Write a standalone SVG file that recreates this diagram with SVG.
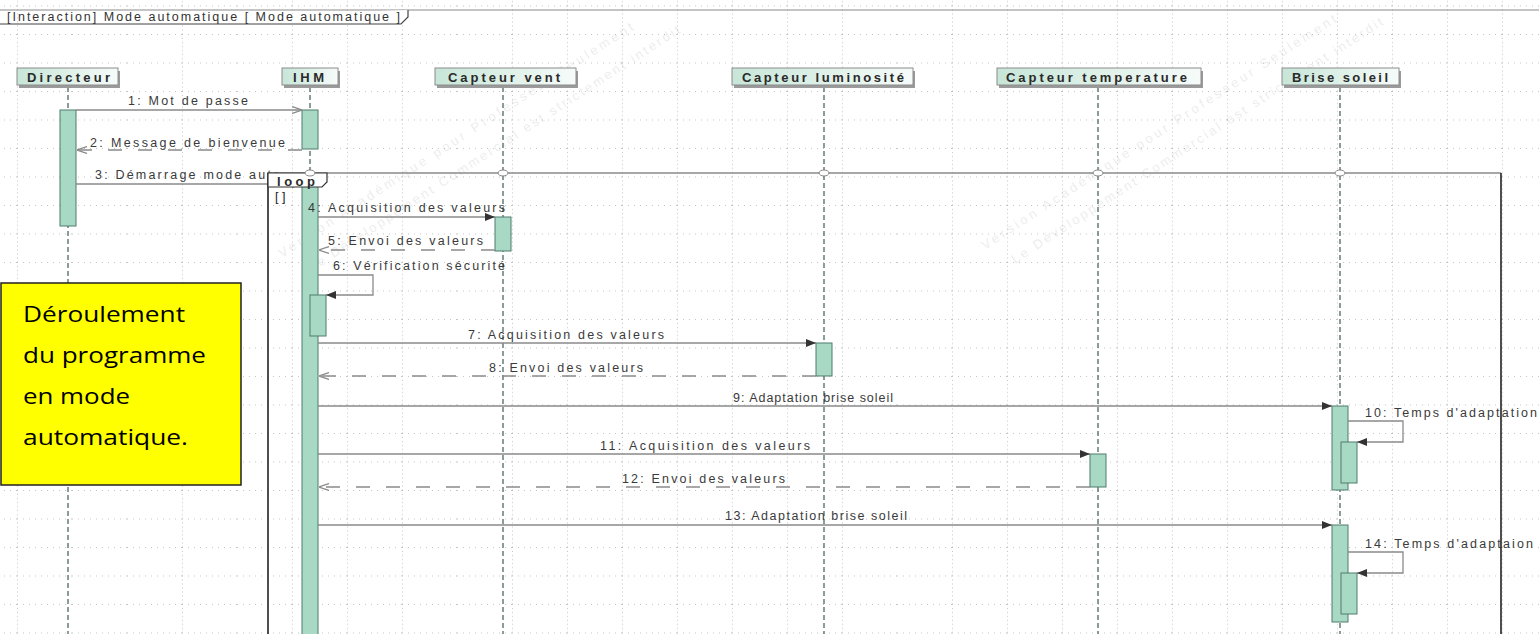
<svg xmlns="http://www.w3.org/2000/svg" width="1539" height="634" viewBox="0 0 1539 634">
<defs>
<style>
.lbl{font-family:"Liberation Sans",Arial,sans-serif;font-size:12.5px;fill:#3a3a3a;}
.head{font-family:"Liberation Sans",Arial,sans-serif;font-size:13px;font-weight:bold;fill:#2a2a2a;}
.wm{font-family:"Liberation Sans",Arial,sans-serif;font-size:13px;fill:#000;opacity:0.07;}
.life{stroke:#3d5e52;stroke-width:1.2;stroke-dasharray:5,3;fill:none;}
.act{fill:#a8d9c4;stroke:#4e7d6c;stroke-width:1;}
.msg{stroke:#8a8a8a;stroke-width:1.3;fill:none;}
.ret{stroke:#8a8a8a;stroke-width:1.3;fill:none;stroke-dasharray:14,16;}
.box{fill:url(#hg);stroke:#8c8c8c;stroke-width:1;}
.shadow{fill:#9a9a9a;}
.gate{fill:#fff;stroke:#888;stroke-width:1;}
.note{font-family:"Open Sans","Noto Sans",sans-serif;font-size:22px;fill:#000;}
</style>
<linearGradient id="hg" x1="0" y1="0" x2="1" y2="0">
<stop offset="0" stop-color="#c7e6d8"/>
<stop offset="1" stop-color="#f6fbf9"/>
</linearGradient>
<pattern id="grid" x="17" y="34" width="55" height="28.5" patternUnits="userSpaceOnUse">
<line x1="0.5" y1="0" x2="0.5" y2="28.5" stroke="#c4c4c4" stroke-width="1" stroke-dasharray="1,3"/>
<line x1="0" y1="0.5" x2="55" y2="0.5" stroke="#c4c4c4" stroke-width="1" stroke-dasharray="1,5"/>
</pattern>
<marker id="fill" viewBox="0 0 10 8" refX="10" refY="4" markerWidth="10" markerHeight="8" markerUnits="userSpaceOnUse" orient="auto">
<path d="M0,0 L10,4 L0,8 Z" fill="#333"/>
</marker>
<marker id="open" viewBox="0 0 10 8" refX="10" refY="4" markerWidth="10" markerHeight="8" markerUnits="userSpaceOnUse" orient="auto">
<path d="M0,0.5 L10,4 L0,7.5" fill="none" stroke="#8a8a8a" stroke-width="1.2"/>
</marker>
</defs>

<rect width="1539" height="634" fill="#fff"/>
<rect width="1539" height="634" fill="url(#grid)"/>

<g id="watermark">
<text class="wm" transform="translate(282,258) rotate(-33)" textLength="420" lengthAdjust="spacing">Version Académique pour Professeur Seulement</text>
<text class="wm" transform="translate(312,272) rotate(-33)" textLength="440" lengthAdjust="spacing">Le Développement Commercial est strictement interdit</text>
<text class="wm" transform="translate(985,250) rotate(-33)" textLength="420" lengthAdjust="spacing">Version Académique pour Professeur Seulement</text>
<text class="wm" transform="translate(1015,264) rotate(-33)" textLength="440" lengthAdjust="spacing">Le Développement Commercial est strictement interdit</text>
</g>

<g id="frame">
<line x1="0" y1="10" x2="1539" y2="10" stroke="#8a8a8a" stroke-width="1.2"/>
<path d="M0,24 H401 L408,17 V10" fill="#fff" stroke="#444" stroke-width="1.2"/>
<text class="lbl" x="7" y="21" textLength="393" lengthAdjust="spacing" style="fill:#333">[Interaction] Mode automatique [ Mode automatique ]</text>
</g>

<g id="lifelines">
<line class="life" x1="68" y1="87" x2="68" y2="634"/>
<line class="life" x1="310" y1="87" x2="310" y2="634"/>
<line class="life" x1="503" y1="87" x2="503" y2="634"/>
<line class="life" x1="824" y1="87" x2="824" y2="634"/>
<line class="life" x1="1098" y1="87" x2="1098" y2="634"/>
<line class="life" x1="1340" y1="87" x2="1340" y2="634"/>
</g>

<g id="n-directeur">
<rect class="shadow" x="19" y="71" width="101" height="17"/>
<rect class="box" x="17" y="68" width="101" height="17"/>
<text class="head" x="27" y="81.5" textLength="83" lengthAdjust="spacing">Directeur</text>
</g>
<g id="n-ihm">
<rect class="shadow" x="284" y="71" width="56" height="17"/>
<rect class="box" x="282" y="68" width="56" height="17"/>
<text class="head" x="293" y="81.5" textLength="31" lengthAdjust="spacing">IHM</text>
</g>
<g id="n-capteur-vent">
<rect class="shadow" x="437" y="71" width="141" height="17"/>
<rect class="box" x="435" y="68" width="141" height="17"/>
<text class="head" x="448" y="81.5" textLength="112" lengthAdjust="spacing">Capteur vent</text>
</g>
<g id="n-capteur-luminosite">
<rect class="shadow" x="734" y="71" width="181" height="17"/>
<rect class="box" x="732" y="68" width="181" height="17"/>
<text class="head" x="742" y="81.5" textLength="162" lengthAdjust="spacing">Capteur luminosité</text>
</g>
<g id="n-capteur-temperature">
<rect class="shadow" x="999" y="71" width="204" height="17"/>
<rect class="box" x="997" y="68" width="204" height="17"/>
<text class="head" x="1006" y="81.5" textLength="181" lengthAdjust="spacing">Capteur temperature</text>
</g>
<g id="n-brise-soleil">
<rect class="shadow" x="1284" y="71" width="117" height="17"/>
<rect class="box" x="1282" y="68" width="117" height="17"/>
<text class="head" x="1292" y="81.5" textLength="96" lengthAdjust="spacing">Brise soleil</text>
</g>

<g id="activations">
<rect class="act" x="60" y="110" width="16" height="116"/>
<rect class="act" x="302" y="110" width="16" height="39"/>
<rect class="act" x="302" y="184" width="16" height="460"/>
<rect class="act" x="310" y="295" width="16" height="41"/>
<rect class="act" x="495" y="217" width="16" height="34"/>
<rect class="act" x="816" y="343" width="16" height="33"/>
<rect class="act" x="1090" y="454" width="16" height="33"/>
<rect class="act" x="1332" y="406" width="16" height="84"/>
<rect class="act" x="1341" y="442" width="16" height="41"/>
<rect class="act" x="1332" y="525" width="16" height="97"/>
<rect class="act" x="1341" y="573" width="16" height="41"/>
</g>

<g id="connectors">
<line class="msg" x1="76" y1="110" x2="302" y2="110" marker-end="url(#open)"/>
<line class="ret" x1="302" y1="150" x2="77" y2="150" marker-end="url(#open)"/>
<line class="msg" x1="76" y1="184" x2="302" y2="184" marker-end="url(#open)"/>
<line class="msg" x1="318" y1="217" x2="495" y2="217" marker-end="url(#fill)"/>
<line class="ret" x1="495" y1="250" x2="319" y2="250" marker-end="url(#open)"/>
<path class="msg" d="M318,275 H373 V295 H326" marker-end="url(#fill)"/>
<line class="msg" x1="318" y1="343" x2="816" y2="343" marker-end="url(#fill)"/>
<line class="ret" x1="816" y1="376" x2="319" y2="376" marker-end="url(#open)"/>
<line class="msg" x1="318" y1="406" x2="1332" y2="406" marker-end="url(#fill)"/>
<path class="msg" d="M1348,421 H1403 V442 H1357" marker-end="url(#fill)"/>
<line class="msg" x1="318" y1="454" x2="1090" y2="454" marker-end="url(#fill)"/>
<line class="ret" x1="1090" y1="487" x2="319" y2="487" marker-end="url(#open)"/>
<line class="msg" x1="318" y1="525" x2="1332" y2="525" marker-end="url(#fill)"/>
<path class="msg" d="M1348,552 H1403 V573 H1357" marker-end="url(#fill)"/>
</g>

<g id="labels">
<text class="lbl" x="128" y="105" textLength="120" lengthAdjust="spacing">1: Mot de passe</text>
<text class="lbl" x="90" y="147" textLength="195" lengthAdjust="spacing">2: Message de bienvenue</text>
<text class="lbl" x="95" y="179" textLength="185" lengthAdjust="spacing">3: Démarrage mode auto</text>
<text class="lbl" x="308" y="212" textLength="197" lengthAdjust="spacing">4: Acquisition des valeurs</text>
<text class="lbl" x="328" y="245" textLength="155" lengthAdjust="spacing">5: Envoi des valeurs</text>
<text class="lbl" x="333" y="270" textLength="172" lengthAdjust="spacing">6: Vérification sécurité</text>
<text class="lbl" x="468" y="339" textLength="196" lengthAdjust="spacing">7: Acquisition des valeurs</text>
<text class="lbl" x="489" y="372" textLength="154" lengthAdjust="spacing">8: Envoi des valeurs</text>
<text class="lbl" x="733" y="402" textLength="160" lengthAdjust="spacing">9: Adaptation brise soleil</text>
<text class="lbl" x="1365" y="417" textLength="172" lengthAdjust="spacing">10: Temps d'adaptation</text>
<text class="lbl" x="600" y="450" textLength="210" lengthAdjust="spacing">11: Acquisition des valeurs</text>
<text class="lbl" x="622" y="483" textLength="163" lengthAdjust="spacing">12: Envoi des valeurs</text>
<text class="lbl" x="725" y="520" textLength="182" lengthAdjust="spacing">13: Adaptation  brise soleil</text>
<text class="lbl" x="1365" y="548" textLength="168" lengthAdjust="spacing">14: Temps d'adaptaion</text>
</g>

<g id="loop">
<line x1="268" y1="173" x2="1501" y2="173" stroke="#8a8a8a" stroke-width="1.3"/>
<line x1="268" y1="173" x2="268" y2="640" stroke="#222" stroke-width="1.6"/>
<line x1="1501" y1="173" x2="1501" y2="640" stroke="#222" stroke-width="1.6"/>
<path d="M268,173 V187 H322 L327,182 V173 Z" fill="#fff" stroke="#333" stroke-width="1.2"/>
<text class="head" x="277" y="185.5" textLength="38" lengthAdjust="spacing">loop</text>
<text class="lbl" x="275" y="201" style="fill:#222">[ ]</text>
<ellipse class="gate" cx="310" cy="173" rx="5" ry="3"/>
<ellipse class="gate" cx="503" cy="173" rx="5" ry="3"/>
<ellipse class="gate" cx="824" cy="173" rx="5" ry="3"/>
<ellipse class="gate" cx="1098" cy="173" rx="5" ry="3"/>
<ellipse class="gate" cx="1340" cy="173" rx="5" ry="3"/>
</g>

<g id="note">
<rect x="1" y="283" width="240" height="202" fill="#ffff00" stroke="#222" stroke-width="1.5"/>
<text class="note" x="23" y="322" textLength="162" lengthAdjust="spacingAndGlyphs">Déroulement</text>
<text class="note" x="23" y="363" textLength="183" lengthAdjust="spacingAndGlyphs">du programme</text>
<text class="note" x="23" y="404" textLength="107" lengthAdjust="spacingAndGlyphs">en mode</text>
<text class="note" x="23" y="445" textLength="165" lengthAdjust="spacingAndGlyphs">automatique.</text>
</g>
</svg>
